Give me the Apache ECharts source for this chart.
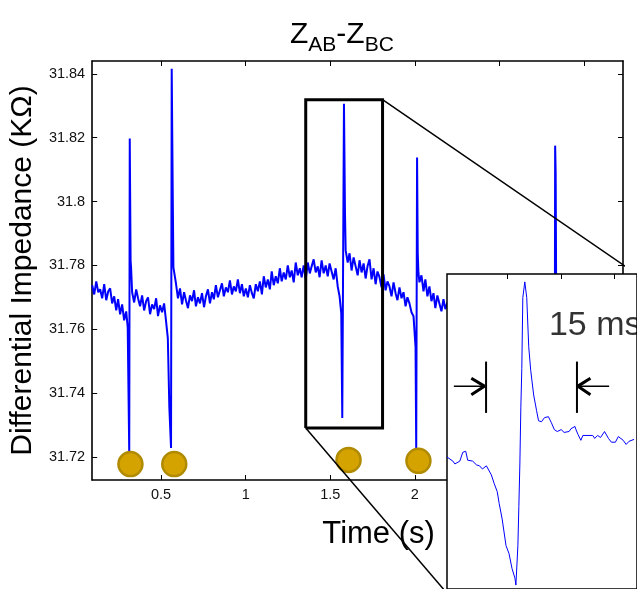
<!DOCTYPE html>
<html><head><meta charset="utf-8">
<script src="https://cdn.jsdelivr.net/npm/echarts@6/dist/echarts.min.js"></script>
<style>html,body{margin:0;padding:0;background:#fff}#c{width:637px;height:589px}</style>
</head><body><div id="c"></div>
<script>
// ---------- data ----------
const xTicks = [0.5, 1, 1.5, 2, 2.5, 3];
const yTicks = [31.72, 31.74, 31.76, 31.78, 31.8, 31.82, 31.84];
const insetTicks = [11.2, 21.3, 31.2];

// Z_AB - Z_BC (kOhm) vs time (s)
const signal = [
[0.093,31.7738],[0.105,31.7709],[0.117,31.7750],[0.129,31.7716],[0.140,31.7725],[0.152,31.7697],[0.164,31.7741],[0.176,31.7691],[0.188,31.7719],[0.199,31.7728],[0.211,31.7681],[0.223,31.7703],[0.235,31.7659],[0.246,31.7694],[0.258,31.7647],[0.270,31.7678],[0.282,31.7628],[0.294,31.7656],
[0.303,31.7606],[0.306,31.7472],[0.312,31.7213],[0.315,31.8197],[0.320,31.7816],[0.323,31.7791],[0.329,31.7716],
[0.341,31.7684],[0.353,31.7725],[0.364,31.7697],[0.376,31.7672],[0.388,31.7706],[0.400,31.7659],[0.412,31.7688],[0.423,31.7700],[0.435,31.7647],[0.447,31.7678],[0.459,31.7663],[0.471,31.7697],[0.482,31.7641],[0.494,31.7675],[0.506,31.7653],[0.518,31.7681],[0.529,31.7628],
[0.540,31.7572],[0.549,31.7356],[0.559,31.7228],[0.563,31.8416],[0.569,31.8028],[0.573,31.7794],[0.588,31.7744],
[0.600,31.7697],[0.612,31.7728],[0.624,31.7678],[0.636,31.7716],[0.647,31.7691],[0.659,31.7666],[0.671,31.7706],[0.683,31.7688],[0.695,31.7722],[0.706,31.7672],[0.718,31.7700],[0.730,31.7681],[0.742,31.7713],[0.754,31.7669],[0.765,31.7703],[0.777,31.7725],[0.789,31.7681],[0.801,31.7716],[0.812,31.7694],[0.824,31.7738],[0.836,31.7700],[0.848,31.7722],[0.860,31.7744],[0.871,31.7703],[0.883,31.7731],[0.895,31.7716],[0.907,31.7753],[0.919,31.7709],[0.930,31.7734],[0.942,31.7719],[0.954,31.7756],[0.966,31.7713],[0.978,31.7741],[0.989,31.7703],[1.001,31.7728],[1.013,31.7700],[1.025,31.7738],[1.037,31.7713],[1.048,31.7697],[1.060,31.7741],[1.072,31.7719],[1.084,31.7750],[1.096,31.7709],[1.107,31.7766],[1.119,31.7731],[1.131,31.7756],[1.143,31.7725],[1.154,31.7781],[1.166,31.7738],[1.178,31.7766],[1.190,31.7744],[1.202,31.7791],[1.213,31.7750],[1.225,31.7778],[1.237,31.7756],[1.249,31.7800],[1.261,31.7763],[1.272,31.7784],[1.284,31.7747],[1.296,31.7809],[1.308,31.7769],[1.320,31.7791],[1.331,31.7763],[1.343,31.7800],[1.355,31.7756],[1.367,31.7809],[1.379,31.7775],[1.390,31.7797],[1.402,31.7819],[1.414,31.7778],[1.426,31.7797],[1.437,31.7763],[1.449,31.7816],[1.461,31.7775],[1.473,31.7800],[1.485,31.7766],[1.496,31.7806],[1.508,31.7781],[1.520,31.7756],[1.532,31.7791],[1.544,31.7734],[1.555,31.7703],
[1.565,31.7650],[1.571,31.7322],[1.581,31.8306],[1.587,31.7963],[1.591,31.7847],
[1.603,31.7809],[1.614,31.7838],[1.626,31.7784],[1.638,31.7825],[1.650,31.7797],[1.662,31.7769],[1.673,31.7816],[1.685,31.7778],[1.697,31.7806],[1.709,31.7759],[1.720,31.7797],[1.732,31.7819],[1.744,31.7756],[1.756,31.7791],[1.768,31.7741],[1.779,31.7781],[1.791,31.7763],[1.803,31.7731],[1.815,31.7772],[1.827,31.7722],[1.838,31.7750],[1.850,31.7734],[1.862,31.7703],[1.874,31.7747],[1.886,31.7713],[1.897,31.7691],[1.909,31.7731],[1.921,31.7697],[1.933,31.7716],[1.945,31.7672],[1.956,31.7700],[1.968,31.7681],[1.980,31.7653],[1.992,31.7641],
[2.004,31.7544],[2.008,31.7222],[2.013,31.8138],[2.017,31.7838],[2.021,31.7778],
[2.027,31.7747],[2.039,31.7769],[2.051,31.7719],[2.062,31.7756],[2.074,31.7703],[2.086,31.7734],[2.098,31.7688],[2.110,31.7713],[2.121,31.7666],[2.133,31.7706],[2.145,31.7681],[2.157,31.7656],[2.169,31.7694],[2.180,31.7663],[2.192,31.7684],
[2.239,31.7691],[2.298,31.7672],[2.357,31.7691],[2.416,31.7666],[2.475,31.7684],[2.534,31.7672],[2.593,31.7691],[2.652,31.7678],[2.711,31.7697],[2.770,31.7684],[2.811,31.7691],[2.823,31.7659],
[2.826,31.7222],[2.829,31.8175],[2.832,31.8091],[2.835,31.7722],
[2.888,31.7697],[2.977,31.7703],[3.065,31.7691],[3.153,31.7703],[3.230,31.7691]
];

// stimulus markers
const stimTimes  = [0.319, 0.578, 1.608, 2.021];
const stimLevels = [31.7178, 31.7178, 31.7191, 31.7188];

// zoom box (time s, kOhm) and where its connectors meet the inset corners
const zoomT = [1.355, 1.809];
const zoomZ = [31.7291, 31.8319];
const connTopEnd = [3.312, 31.7772];
const connBottomEnd = [2.192, 31.6772];

// inset: one beat, time in ms, amplitude in arbitrary units
const insetTime = [0,1.1,1.47,2.39,2.94,3.49,3.85,4.77,5.5,6.06,6.6,7.34,7.7,8.26,8.81,9.36,9.72,10.28,11.0,11.56,12.11,12.66,12.84,13.21,13.39,13.58,13.76,13.94,14.13,14.5,14.86,15.23,15.6,16.15,16.7,17.06,17.61,18.17,18.9,19.45,20.0,20.55,21.28,21.83,22.75,23.12,23.85,24.04,24.4,24.95,25.32,27.16,27.52,28.07,28.62,29.36,29.72,30.09,30.64,31.38,31.93,32.29,32.84,33.39,33.94,34.86];
const insetValue = [41.9,40.6,39.7,40.6,43.4,43.75,40.9,40.6,39.4,39.1,38.1,39.1,38.75,36.25,33.4,30.9,27.2,22.2,13.75,11.25,6.56,3.44,1.25,13.75,26.25,39.7,57.5,70,92.5,97.5,92.5,76.9,69.4,61.6,56.6,53.4,53.1,54.4,54.7,52.8,50.6,50,50.6,49.7,50,50.9,51.6,50.6,49.1,47.2,48.75,48.75,47.8,48.75,48.1,50,49.7,47.8,46.6,46.6,48.4,48.4,47.2,45.9,46.9,47.5];

// 15 ms markers in inset coordinates
const markLeftShaft  = [[1.28,64.4],[6.97,64.4]];
const markLeftHead   = [[4.53,66.9],[6.97,64.4],[4.53,61.7]];
const markLeftBar    = [[7.28,72.2],[7.28,55.9]];
const markRightShaft = [[30.22,64.4],[24.4,64.4]];
const markRightHead  = [[26.73,66.9],[24.4,64.4],[26.73,61.7]];
const markRightBar   = [[24.22,72.2],[24.22,55.9]];
const markLabelPos   = [18.9, 83.75];
const markLabel = '15 ms';

// ---------- chart ----------
const FONT = '"Liberation Sans", Arial, Helvetica, sans-serif';
const axLine = {show:true, onZero:false, lineStyle:{color:'#000', width:1.6}};
const tickIn = vals => ({show:true, inside:true, length:5, lineStyle:{color:'#000', width:1}, customValues: vals});
const noSplit = {show:false};

const zoomBox = [[zoomT[0],zoomZ[0]],[zoomT[0],zoomZ[1]],[zoomT[1],zoomZ[1]],[zoomT[1],zoomZ[0]],[zoomT[0],zoomZ[0]]];

function insetLine(data, width) {
  return {type:'line', xAxisIndex:2, yAxisIndex:2, data, symbol:'none', z:12,
    lineStyle:{color:'#000', width}, silent:true, animation:false};
}

const option = {
  animation:false,
  backgroundColor:'#fff',
  title:{
    text:'{z|Z}{s|AB}{z|-Z}{s|BC}', left:285, top:15,
    textStyle:{fontWeight:'normal', rich:{
      z:{fontSize:30, fontFamily:FONT, fontWeight:'normal', color:'#000', verticalAlign:'bottom', padding:[0,0,6,0]},
      s:{fontSize:21, fontFamily:FONT, fontWeight:'normal', color:'#000', verticalAlign:'bottom'}
    }}
  },
  grid:[
    {left:91, top:61, width:532, height:419, show:false},
    {left:447, top:274, width:193, height:320, show:true, backgroundColor:'#fff', borderColor:'#000', borderWidth:1.5, z:10}
  ],
  xAxis:[
    {gridIndex:0, type:'value', min:0.093, max:3.23, position:'bottom', axisLine:axLine, axisTick:tickIn(xTicks),
     axisLabel:{customValues:xTicks, color:'#111', fontSize:14.5, fontFamily:FONT, margin:7, formatter:v=>String(v)},
     splitLine:noSplit, name:'Time (s)', nameLocation:'middle', nameGap:39,
     nameTextStyle:{fontSize:31, fontFamily:FONT, color:'#000', padding:[0,0,0,42]}},
    {gridIndex:0, type:'value', min:0.093, max:3.23, position:'top', axisLine:axLine, axisTick:tickIn(xTicks),
     axisLabel:{show:false}, splitLine:noSplit},
    {gridIndex:1, type:'value', min:0, max:35.41, position:'top', axisLine:{show:false, onZero:false}, axisTick:tickIn(insetTicks),
     axisLabel:{show:false}, splitLine:noSplit, z:11}
  ],
  yAxis:[
    {gridIndex:0, type:'value', min:31.7128, max:31.844, position:'left', axisLine:axLine, axisTick:tickIn(yTicks),
     axisLabel:{customValues:yTicks, color:'#111', fontSize:14.5, fontFamily:FONT, margin:7, formatter:v=>String(Math.round(v*100)/100)},
     splitLine:noSplit, name:'Differential Impedance (K\u03A9)', nameLocation:'middle', nameGap:38,
     nameTextStyle:{fontSize:30, fontFamily:FONT, color:'#000'}},
    {gridIndex:0, type:'value', min:31.7128, max:31.844, position:'right', axisLine:axLine, axisTick:tickIn(yTicks),
     axisLabel:{show:false}, splitLine:noSplit},
    {gridIndex:1, type:'value', min:0, max:100, position:'left', axisLine:{show:false, onZero:false}, axisTick:{show:false},
     axisLabel:{show:false}, splitLine:noSplit, z:11}
  ],
  series:[
    {type:'line', xAxisIndex:0, yAxisIndex:0, data:signal, symbol:'none', z:2,
     lineStyle:{color:'#0000ff', width:2}},
    {type:'scatter', xAxisIndex:0, yAxisIndex:0, data:stimTimes.map((t,i)=>[t, stimLevels[i]]), symbolSize:24, z:3,
     itemStyle:{color:'#d4a300', borderColor:'#b08a00', borderWidth:2.5, opacity:1}},
    {type:'line', xAxisIndex:0, yAxisIndex:0, data:zoomBox, symbol:'none', z:4, clip:false,
     lineStyle:{color:'#000', width:3, join:'miter'}},
    {type:'line', xAxisIndex:0, yAxisIndex:0, data:[[zoomT[1],zoomZ[1]], connTopEnd], symbol:'none', z:4, clip:false,
     lineStyle:{color:'#000', width:1.5}},
    {type:'line', xAxisIndex:0, yAxisIndex:0, data:[[zoomT[0],zoomZ[0]], connBottomEnd], symbol:'none', z:4, clip:false,
     lineStyle:{color:'#000', width:1.5}},
    {type:'line', xAxisIndex:2, yAxisIndex:2, data:insetTime.map((t,i)=>[t, insetValue[i]]), symbol:'none', z:12,
     lineStyle:{color:'#0000ff', width:1}},
    insetLine(markLeftShaft, 1.5), insetLine(markLeftHead, 3), insetLine(markLeftBar, 2),
    insetLine(markRightShaft, 1.5), insetLine(markRightHead, 3), insetLine(markRightBar, 2),
    {type:'scatter', xAxisIndex:2, yAxisIndex:2, data:[markLabelPos], symbolSize:1, z:13,
     itemStyle:{color:'rgba(0,0,0,0)'},
     label:{show:true, position:'right', distance:0, formatter:markLabel, fontSize:34, fontFamily:FONT, color:'#000'}}
  ]
};
const chart = echarts.init(document.getElementById('c'));
chart.setOption(option);
</script>
</body></html>
